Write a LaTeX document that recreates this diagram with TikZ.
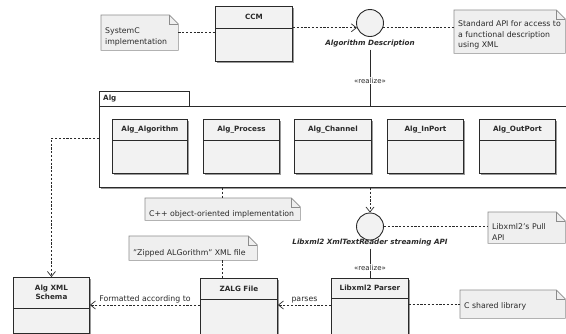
\documentclass[tikz,border=0pt]{standalone}
\usepackage{fontspec}
\setmainfont{DejaVu Sans}
\usetikzlibrary{arrows.meta,shadows,calc}
\definecolor{clsfill}{HTML}{F2F2F2}
\definecolor{notefill}{HTML}{EFEFEF}
\definecolor{noteline}{HTML}{8C8C8C}
\definecolor{ink}{HTML}{2A2A2A}
\tikzset{
 cls/.style={draw=ink, line width=0.9pt, fill=clsfill, inner sep=0pt,
   drop shadow={shadow xshift=2pt,shadow yshift=-2pt,fill=black!40,opacity=1}},
 clsname/.style={font=\fontsize{7.2}{9}\selectfont\bfseries, align=center, inner sep=0pt, text=ink},
 notebox/.style={draw=noteline, fill=notefill, line width=0.6pt},
 notetext/.style={font=\fontsize{7.8}{10.5}\selectfont, align=left, inner sep=0pt, text=ink},
 conn/.style={draw=ink, line width=0.7pt},
 dashline/.style={conn, dash pattern=on 2.2pt off 1.6pt},
 dep/.style={dashline, -{Straight Barb[length=5pt,width=8pt]}},
 iface/.style={circle, draw=ink, line width=0.9pt, fill=clsfill, minimum size=27pt, inner sep=0pt},
 ifacelabel/.style={font=\fontsize{7.2}{9}\selectfont\bfseries\itshape, inner sep=0pt, text=ink},
 stereo/.style={font=\fontsize{7}{8}\selectfont, fill=white, inner sep=1pt, text=ink},
 lbl/.style={font=\fontsize{7.8}{9}\selectfont, inner sep=0pt, text=ink},
}
\newcommand\umlclass[7]{%
 \node[cls, anchor=north west, minimum width=#4pt, minimum height=#5pt] (#1) at (#2,#3) {};
 \draw[draw=ink, line width=0.9pt] ([yshift=-#6pt]#1.north west) -- ([yshift=-#6pt]#1.north east);
 \node[clsname] (#1-name) at ([yshift=-#6pt/2]#1.north) {#7};
}
\newcommand\umlnote[7]{%
 \node[anchor=north west, minimum width=#4pt, minimum height=#5pt, inner sep=0pt] (#1) at (#2,#3) {};
 \draw[notebox] (#1.north west) -- ([xshift=-9pt]#1.north east) -- ([yshift=-9pt]#1.north east) |- (#1.south west) -- cycle;
 \draw[notebox, fill=none] ([xshift=-9pt]#1.north east) |- ([yshift=-9pt]#1.north east);
 \node[notetext, anchor=west] (#1-text) at ([xshift=4pt,yshift=-#7pt]#1.west) {#6};
}
\begin{document}
\begin{tikzpicture}[x=1pt,y=-1pt]
\useasboundingbox (0,0) rectangle (566,333);
\clip (0,0) rectangle (566,333);
\fill[white] (0,0) rectangle (566,333);
% package
\node[draw=ink, line width=0.9pt, fill=white, anchor=north west, minimum width=90pt, minimum height=15pt, inner sep=0pt] (algtab) at (99,91) {};
\node[clsname, anchor=west] (algtabname) at ([xshift=4pt]algtab.west) {Alg};
\node[draw=ink, line width=0.9pt, fill=white, anchor=north west, minimum width=490pt, minimum height=81pt, inner sep=0pt,
  drop shadow={shadow xshift=2pt,shadow yshift=-2pt,fill=black!40,opacity=1}] (alg) at (99,106) {};
% classes
\umlclass{ccm}{215}{6}{77}{55}{22}{CCM}
\umlclass{algA}{112}{119}{75}{54}{21}{Alg\_Algorithm}
\umlclass{algP}{203}{119}{76}{54}{21}{Alg\_Process}
\umlclass{algC}{294}{119}{77}{54}{21}{Alg\_Channel}
\umlclass{algI}{387}{119}{76}{54}{21}{Alg\_InPort}
\umlclass{algO}{479}{119}{76}{54}{21}{Alg\_OutPort}
\umlclass{schema}{13}{277}{76}{56}{31}{Alg XML\\Schema}
\umlclass{zalg}{200}{278}{77}{62}{21}{ZALG File}
\umlclass{parser}{331}{278}{77}{62}{20}{Libxml2 Parser}
% interfaces
\node[iface] (ad) at (370,23) {};
\node[ifacelabel] (adl) at (370,44) {Algorithm Description};
\node[iface] (lx) at (370,226.5) {};
\node[ifacelabel] (lxl) at (370,243) {Libxml2 XmlTextReader streaming API};
% notes
\umlnote{sysc}{101}{15}{77}{35}{SystemC\\implementation}{4}
\umlnote{stdapi}{454}{10}{111}{43}{Standard API for access to\\a functional description\\using XML}{3.5}
\umlnote{cpp}{145}{198}{155}{22}{C++ object-oriented implementation}{5}
\umlnote{zip}{129}{236}{128}{24}{"Zipped ALGorithm" XML file}{5}
\umlnote{pull}{488}{212}{77}{31}{Libxml2's Pull\\API}{4.5}
\umlnote{csh}{460}{290}{105}{28}{C shared library}{2}
\coordinate (zipc) at (222,0);
\coordinate (schemay) at (0,138);
\coordinate (arry) at (0,305);
% connectors
\draw[dashline] (sysc.east) -- (sysc.east -| ccm.west);
\draw[dep] (ccm.east |- ad.200) -- (ad.200);
\draw[dashline] (ad.340) -- (stdapi.west |- ad.340);
\draw[conn] ([yshift=-2pt]adl.south -| ad.south) -- (ad.south |- alg.north) node[stereo, pos=0.55] {«realize»};
\draw[dep] (alg.west |- schemay) -| (schema.north);
\draw[dashline] (alg.south -| zipc) -- (cpp.north -| zipc);
\draw[dep] (alg.south -| lx.north) -- (lx.north);
\draw[dashline] (lx.east) -- (pull.west |- lx.east);
\draw[conn] ([yshift=-2pt]lxl.south -| lx.south) -- (lx.south |- parser.north) node[stereo, pos=0.65] {«realize»};
\draw[dashline] (zip.south -| zipc) -- (zalg.north -| zipc);
\draw[dep] (zalg.west |- arry) -- (schema.east |- arry) node[lbl, midway, above=1.5pt] {Formatted according to};
\draw[dep] (parser.west |- arry) -- (zalg.east |- arry) node[lbl, midway, above=1.5pt] {parses};
\draw[dashline] (parser.east |- csh.west) -- (csh.west);
\end{tikzpicture}
\end{document}
